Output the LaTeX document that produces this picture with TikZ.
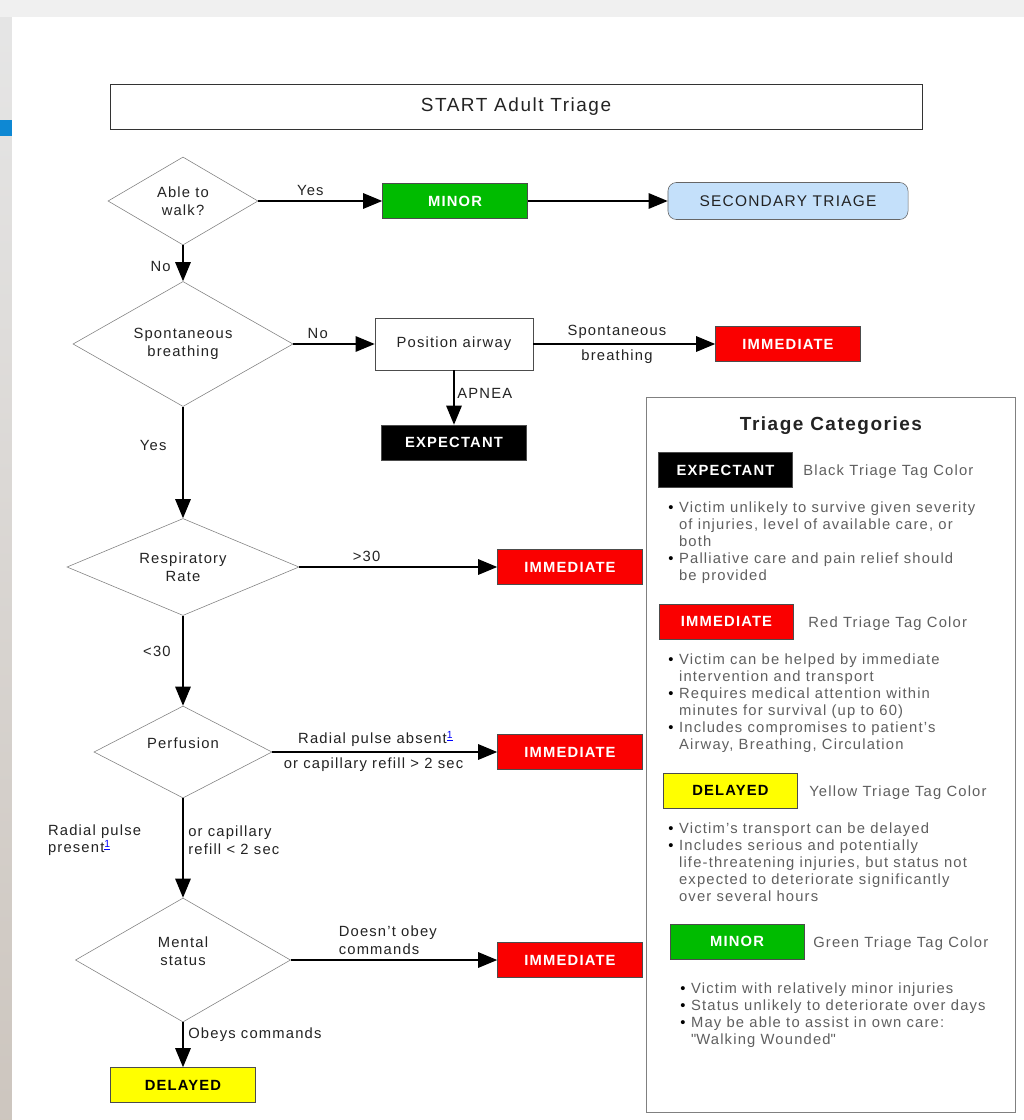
\documentclass[tikz,border=0pt]{standalone}
\usepackage{fontspec}
\setmainfont{Liberation Sans}[LetterSpace=8]
\usetikzlibrary{shapes.geometric,arrows.meta}
\definecolor{tagred}{RGB}{250,0,0}
\definecolor{taggreen}{RGB}{0,187,0}
\definecolor{tagyellow}{RGB}{255,255,0}
\definecolor{secblue}{RGB}{196,224,250}
\definecolor{ink}{RGB}{35,35,35}
\definecolor{legink}{RGB}{95,95,95}
\newcommand{\fnmark}{\textsuperscript{\textcolor{blue}{\underline{1}}}}
\newcommand{\bul}{\textcolor{black}{\textbullet}}
\begin{document}
\begin{tikzpicture}[x=0.025cm,y=-0.025cm,
  >={Triangle[length=13.5pt,width=11pt]},
  every node/.style={font=\fontsize{10.5}{12.5}\selectfont,text=ink},
  decision/.style={diamond,aspect=2,draw=gray,fill=white,inner sep=0pt,align=center},
  tagbox/.style={draw=black!70,minimum width=3.625cm,minimum height=0.875cm,inner sep=0pt,font=\fontsize{10.5}{12}\selectfont\bfseries},
  redtag/.style={tagbox,fill=tagred,text=white},
  greentag/.style={tagbox,fill=taggreen,text=white},
  blacktag/.style={tagbox,fill=black,text=white},
  yellowtag/.style={tagbox,fill=tagyellow,text=black},
  keytag/.style={minimum width=3.35cm,minimum height=0.88cm},
  flow/.style={->,line width=0.9pt},
  bullets/.style={anchor=base west,inner sep=0pt,text=legink,font=\fontsize{10.5}{12.1}\selectfont},
  tagname/.style={anchor=west,inner sep=0pt,text=legink}]
\fill[gray!12] (0,0) rectangle (1024,1120);
\shade[top color=gray!20,bottom color=brown!25!gray!45] (0,17) rectangle (12,1120);
\fill[cyan!70!blue] (0,120) rectangle (12,136);
\fill[white] (12,17) rectangle (1024,1120);
\useasboundingbox (0,0) rectangle (1024,1120);

\node[draw=black!80,minimum width=20.3cm,minimum height=1.125cm,font=\fontsize{13.5}{16}\selectfont] (title) at (516,106.5) {START Adult Triage};

\node[decision,minimum width=3.75cm,minimum height=2.2cm] (walk) at (183,201) {Able to\\walk?};
\node[greentag] (minor) at (455,201) {MINOR};
\node[draw=black!60,fill=secblue,rounded corners=6pt,minimum width=6cm,minimum height=0.925cm,font=\fontsize{11}{13}\selectfont] (second) at (788,201) {SECONDARY TRIAGE};
\node[decision,minimum width=5.5cm,minimum height=3.125cm] (breath) at (183,344) {Spontaneous\\breathing};
\node[draw=black!70,minimum width=3.95cm,minimum height=1.3cm] (airway) at (454,344) {Position airway};
\node[redtag] (imm1) at (788,344) {IMMEDIATE};
\node[blacktag] (expect) at (454,442.5) {EXPECTANT};
\node[decision,minimum width=5.8cm,minimum height=2.425cm] (resp) at (183,567) {Respiratory\\Rate};
\node[redtag] (imm2) at (570,567) {IMMEDIATE};
\node[decision,minimum width=4.45cm,minimum height=2.3cm] (perf) at (183,752) {Perfusion\\~};
\node[redtag] (imm3) at (570,752) {IMMEDIATE};
\node[decision,minimum width=5.375cm,minimum height=3.1cm] (mental) at (183,960) {Mental\\status\\~};
\node[redtag] (imm4) at (570,960) {IMMEDIATE};
\node[yellowtag] (delay) at (183,1085) {DELAYED};

\draw[flow] (walk.east) -- node[above,pos=.42] (lyes1) {Yes} (minor.west);
\draw[flow] (minor.east) -- (second.west);
\draw[flow] (walk.south) -- node[left=5pt,pos=.6] (lno1) {No} (breath.north);
\draw[flow] (breath.east) -- node[above,pos=.3] (lno2) {No} (airway.west);
\draw[flow] (airway.east) -- node[above,pos=.46] (lsp) {Spontaneous} node[below,pos=.46] (lbr) {breathing} (imm1.west);
\draw[flow] (airway.south) -- node[right,pos=.42,inner sep=2pt] (lap) {APNEA} (expect.north);
\draw[flow] (breath.south) -- node[left=8pt,pos=.35] (lyes2) {Yes} (resp.north);
\draw[flow] (resp.east) -- node[above,pos=.34] (lgt) {>30} (imm2.west);
\draw[flow] (resp.south) -- node[left=5pt,pos=.4] (llt) {<30} (perf.north);
\draw[flow] (perf.east) -- node[above,pos=.46] (labs) {Radial pulse absent\fnmark} node[below,pos=.45] (lref1) {or capillary refill > 2 sec} (imm3.west);
\draw[flow] (perf.south) -- node[right,pos=.42,align=left] (lref2) {or capillary\\refill < 2 sec} node[left=26pt,pos=.42,align=left] (lpres) {Radial pulse\\present\fnmark} (mental.north);
\draw[flow] (mental.east) -- node[above,pos=.47,align=left] (lobey1) {Doesn't obey\\commands} (imm4.west);
\draw[flow] (mental.south) -- node[right,pos=.28] (lobey2) {Obeys commands} (delay.north);

\node[draw=gray,minimum width=9.225cm,minimum height=17.875cm] (legend) at (830.5,754.5) {};
\node[font=\fontsize{13.5}{16}\selectfont\bfseries] (legtitle) at (831,426) {Triage Categories};

\node[blacktag,keytag] (kexp) at (725.5,470) {EXPECTANT};
\node[tagname] (nexp) at (803,472) {Black Triage Tag Color};
\node[bullets] (bexp) at (668,512) {\begin{tabular}[t]{@{}l@{\hspace{4pt}}l@{}}
\bul & Victim unlikely to survive given severity\\
 & of injuries, level of available care, or\\
 & both\\
\bul & Palliative care and pain relief should\\
 & be provided\end{tabular}};

\node[redtag,keytag] (kimm) at (726.5,621.5) {IMMEDIATE};
\node[tagname] (nimm) at (808,624) {Red Triage Tag Color};
\node[bullets] (bimm) at (668,664) {\begin{tabular}[t]{@{}l@{\hspace{4pt}}l@{}}
\bul & Victim can be helped by immediate\\
 & intervention and transport\\
\bul & Requires medical attention within\\
 & minutes for survival (up to 60)\\
\bul & Includes compromises to patient's\\
 & Airway, Breathing, Circulation\end{tabular}};

\node[yellowtag,keytag] (kdel) at (730.5,790.5) {DELAYED};
\node[tagname] (ndel) at (809,793) {Yellow Triage Tag Color};
\node[bullets] (bdel) at (668,833) {\begin{tabular}[t]{@{}l@{\hspace{4pt}}l@{}}
\bul & Victim's transport can be delayed\\
\bul & Includes serious and potentially\\
 & life-threatening injuries, but status not\\
 & expected to deteriorate significantly\\
 & over several hours\end{tabular}};

\node[greentag,keytag] (kmin) at (737,941.5) {MINOR};
\node[tagname] (nmin) at (813,944) {Green Triage Tag Color};
\node[bullets] (bmin) at (680,993) {\begin{tabular}[t]{@{}l@{\hspace{4pt}}l@{}}
\bul & Victim with relatively minor injuries\\
\bul & Status unlikely to deteriorate over days\\
\bul & May be able to assist in own care:\\
 & \textquotedbl Walking Wounded\textquotedbl\end{tabular}};
\end{tikzpicture}
\end{document}
